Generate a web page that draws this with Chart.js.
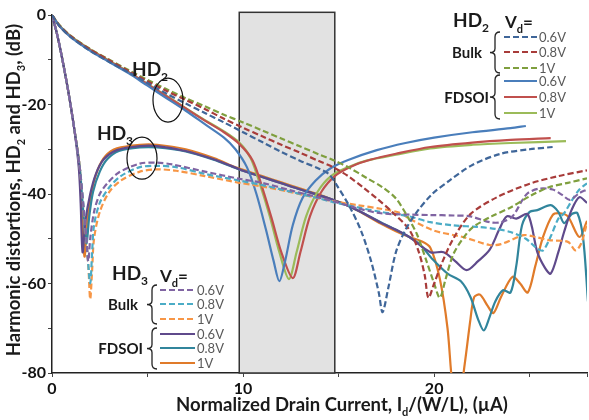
<!doctype html>
<html lang="en">
<head>
  <meta charset="utf-8">
  <title>HD2 / HD3 vs drain current</title>
  <script src="https://cdn.jsdelivr.net/npm/chart.js@4.4.1/dist/chart.umd.min.js"></script>
  <style>
    html, body { margin: 0; padding: 0; background: #fff; }
    #wrap { width: 589px; height: 420px; }
  </style>
</head>
<body>
  <div id="wrap"><canvas id="myChart" width="589" height="420"></canvas></div>
  <script>

// ---- data: [Id/(W/L) in uA, dB] ----
var hd2BulkA = [[0,0],[0.4,-2.5],[1,-5],[2,-8],[3,-10.5],[4,-12.8],[5,-15.2],[6,-17.6],[7,-19.8],[8,-21.9],[9,-24],[10,-26.2],[11,-28.4],[12,-30.6],[13,-32.6],[14,-34.4],[14.5,-35.6],[14.9,-38],[15.6,-43],[16.2,-48.5],[16.7,-55],[17.1,-62],[17.3,-66.4],[17.6,-61],[18,-53],[18.5,-48],[19.1,-44],[19.9,-40],[20.8,-37],[22,-33.5],[23.5,-31],[25,-30],[26.2,-29.5]];
var hd2BulkB = [[0,0],[0.4,-2.4],[1,-4.8],[2,-7.7],[3,-10.1],[4,-12.5],[5,-14.8],[6,-17],[7,-19],[8,-21],[9,-23.2],[10,-25.2],[11,-27.1],[12,-29],[13,-30.8],[14,-32.7],[14.7,-34],[15.5,-36],[16.3,-38.6],[17,-41],[17.8,-44],[18.7,-48],[19.2,-53],[19.5,-58],[19.7,-63.2],[20,-60],[20.4,-55.5],[21,-50],[21.9,-44.5],[23.3,-40.7],[25,-37.7],[26.5,-36],[28,-34.7]];
var hd2BulkC = [[0,0],[0.4,-2.3],[1,-4.7],[2,-7.6],[3,-10],[4,-12.3],[5,-14.5],[6,-16.6],[7,-18.6],[8,-20.4],[9,-22.3],[10,-24],[11,-25.8],[12,-27.6],[13,-29.4],[14,-31.2],[14.7,-32.4],[15.5,-34],[16.5,-36.5],[17.3,-38.5],[18,-41],[18.6,-45],[19.1,-49],[19.6,-55],[20,-60],[20.3,-63.2],[20.6,-59],[21,-53.5],[21.5,-50],[22,-47.5],[23,-45],[24,-43],[25,-40.5],[26,-38.5],[27,-37.5],[28,-36.5]];
var hd2SoiA = [[0,0],[0.4,-2.5],[1,-5],[2,-8],[3,-10.5],[4,-13],[5,-15.8],[6,-18.6],[7,-21.4],[8,-24.4],[9,-27.4],[9.6,-30],[10.2,-34],[10.7,-40],[11.2,-48],[11.6,-55],[11.9,-59.5],[12.2,-55],[12.6,-47],[13.1,-41],[13.8,-37],[14.6,-34.2],[15.5,-32.4],[17,-30.2],[18.5,-28.6],[20,-27.4],[22,-26.2],[24,-25.3],[24.8,-24.8]];
var hd2SoiB = [[0,0],[0.4,-2.5],[1,-4.9],[2,-7.8],[3,-10.3],[4,-12.8],[5,-15.5],[6,-18.2],[7,-20.9],[8,-23.6],[9,-26.2],[9.8,-28.8],[10.5,-32.5],[11,-38.5],[11.5,-45.5],[12,-53],[12.6,-58.8],[13,-53],[13.5,-45],[14.1,-39.5],[14.8,-36],[15.7,-33.8],[16.7,-32.3],[18,-31],[19.8,-29.5],[22,-28.5],[24,-27.9],[26.1,-27.5]];
var hd2SoiC = [[0,0],[0.4,-2.4],[1,-4.8],[2,-7.7],[3,-10.2],[4,-12.7],[5,-15.4],[6,-18.1],[7,-20.8],[8,-23.5],[9,-26],[9.8,-28.5],[10.4,-32],[10.9,-38],[11.4,-45],[11.9,-53],[12.4,-59],[12.8,-53],[13.3,-45],[13.9,-39.5],[14.6,-36],[15.5,-34],[16.5,-32.5],[18,-31.2],[19.8,-29.8],[22,-29],[24,-28.6],[26.9,-28.2]];

var hd3BulkA = [[0,0],[0.25,-4],[0.5,-9],[0.85,-17],[1.15,-25],[1.45,-34],[1.65,-43],[1.8,-50],[1.9,-55],[2,-50],[2.2,-44],[2.5,-40],[2.9,-37.6],[3.5,-35.2],[4.6,-33.2],[5.5,-33],[6.3,-33.4],[8,-35],[9.8,-36.6],[11,-37.5],[12.5,-39.2],[14,-40.8],[14.7,-41.6],[16,-43.2],[17.2,-44.3],[18.7,-44.6],[19.8,-44.7],[21,-44.8],[21.9,-45],[22.9,-46.3],[23.5,-46.3],[24.1,-45],[24.6,-41.5],[24.9,-39.8],[25.5,-38.8],[26.2,-39],[26.7,-40.2],[27.1,-41.3],[27.6,-39.8],[28,-39]];
var hd3BulkB = [[0,0],[0.25,-4],[0.5,-9],[0.85,-17],[1.15,-25],[1.45,-34],[1.7,-45],[1.85,-53],[2,-60],[2.1,-53],[2.2,-47],[2.5,-42],[3,-38.5],[3.6,-36],[4.6,-34],[5.5,-33.7],[6.5,-34],[8,-35.5],[9.8,-37],[11,-38],[12.5,-39.5],[14,-41],[14.7,-41.8],[16,-43],[17.2,-44],[18.7,-45],[19.8,-46.3],[21,-47],[22.4,-47.4],[23.2,-47.8],[24,-48.5],[24.8,-50],[25.4,-52.2],[25.7,-52.6],[26.1,-49.5],[26.5,-45.5],[26.8,-44.3],[27.2,-41.5],[27.6,-39],[28,-37.6]];
var hd3BulkC = [[0,0],[0.25,-4],[0.5,-9],[0.85,-17],[1.15,-25],[1.45,-34],[1.7,-46],[1.9,-56],[2,-63.5],[2.1,-57],[2.2,-50],[2.5,-44],[3,-39.5],[3.6,-37],[4.6,-35],[5.5,-34.5],[6.5,-34.8],[8,-36],[9.8,-37.5],[11,-38.3],[12.5,-39.6],[14,-41],[14.7,-41.6],[16,-42.5],[17.2,-43.3],[18.2,-44.2],[18.7,-45.5],[20,-48.2],[21.5,-49.6],[22.9,-51.4],[23.5,-51.2],[24.7,-49.2],[25.3,-49.6],[26,-50.3],[27,-50.7],[27.4,-52.6],[27.7,-51],[28,-46.5]];
var hd3SoiA = [[0,0],[0.25,-4],[0.5,-9],[0.85,-17],[1.15,-25],[1.4,-34],[1.5,-42],[1.6,-53],[1.75,-46],[2,-40],[2.3,-35.5],[2.7,-32.3],[3.4,-30.2],[4.6,-29.3],[5.5,-29.3],[7,-30.4],[8.5,-32.3],[9.3,-33.6],[10,-34.8],[11,-36.2],[12,-37.6],[13,-39],[14,-40.3],[14.7,-41.3],[15.5,-42.6],[16.3,-44.3],[17.2,-46.4],[18,-48],[18.7,-49.6],[19.8,-53],[20.5,-53],[21.1,-55],[21.7,-57],[22.3,-55],[22.9,-52.5],[23.4,-48],[23.8,-45],[24.3,-45.5],[24.9,-44.5],[25.4,-53],[25.8,-56.5],[26.1,-57.8],[26.5,-53],[26.8,-48.5],[27.2,-43.5],[27.6,-40.7],[28,-42]];
var hd3SoiB = [[0,0],[0.25,-4],[0.5,-9],[0.85,-17],[1.15,-25],[1.45,-34],[1.6,-42],[1.8,-51],[1.95,-45],[2.15,-39.5],[2.5,-35],[2.9,-32.2],[3.5,-30.4],[4.6,-29.6],[5.5,-29.6],[7,-30.5],[8.5,-32.4],[9.3,-33.7],[10,-34.8],[11,-36.2],[12,-37.6],[13,-39],[14,-40.3],[14.7,-41.3],[15.5,-42.6],[16.3,-44.3],[17.2,-46.3],[18,-48],[18.7,-49.6],[19.3,-51.5],[19.9,-54.5],[20.7,-57.8],[21.4,-59.5],[21.9,-63],[22.3,-68],[22.6,-70.5],[22.9,-67.5],[23.2,-64],[23.6,-61.5],[24,-62],[24.3,-56],[24.6,-47],[25,-44],[25.4,-43.6],[26.1,-42.5],[26.5,-44],[26.8,-46.5],[27.2,-44.5],[27.5,-44.3],[27.8,-50],[28.05,-64]];
var hd3SoiC = [[0,0],[0.25,-4],[0.5,-9],[0.85,-17],[1.15,-25],[1.45,-34],[1.55,-43],[1.7,-54],[1.85,-46],[2.1,-39],[2.4,-34.5],[2.8,-31.5],[3.4,-29.8],[4.6,-29],[5.5,-29],[7,-30],[8.5,-32],[9.3,-33.5],[10,-34.6],[11,-36],[12,-37.4],[13,-38.8],[14,-40.2],[14.7,-41.3],[15.5,-42.6],[16.3,-44.4],[17.2,-46.6],[18,-48.3],[18.7,-49.6],[19.3,-50.5],[19.8,-52],[20.3,-59],[20.7,-70],[21,-84],[21.3,-86],[21.6,-78],[21.9,-68],[22.1,-63],[22.4,-62.5],[22.8,-65],[23.1,-66.6],[23.5,-63],[24.1,-58.5],[24.5,-60],[24.9,-62],[25.3,-56],[25.7,-49.6],[26.2,-44.7],[26.6,-44.3],[27,-45],[27.6,-49.6],[28,-46]];

var vdLabels = ["0.6V", "0.8V", "1V"];
var hd2Colors = { bulk: ["#3f6699", "#a83c3a", "#7f9f3e"], soi: ["#4a7ebb", "#c0504d", "#9bbb59"] };
var hd3Colors = { bulk: ["#8064a2", "#4bacc6", "#f79646"], soi: ["#5f4a8b", "#31859c", "#e07b2a"] };

var shadeFrom = 9.8, shadeTo = 14.8;
var fontFam = "Lato, 'Open Sans', sans-serif";

function pts(arr) {
  return arr.map(function (p) { return { x: p[0], y: p[1] }; });
}
function line(label, arr, color, dashed) {
  return {
    label: label,
    data: pts(arr),
    borderColor: color,
    borderWidth: 2.2,
    borderDash: dashed ? [6, 3] : [],
    pointRadius: 0,
    tension: 0.3,
    fill: false
  };
}

var datasets = [
  line("HD2 Bulk 0.6V", hd2BulkA, hd2Colors.bulk[0], true),
  line("HD2 Bulk 0.8V", hd2BulkB, hd2Colors.bulk[1], true),
  line("HD2 Bulk 1V", hd2BulkC, hd2Colors.bulk[2], true),
  line("HD3 Bulk 0.6V", hd3BulkA, hd3Colors.bulk[0], true),
  line("HD3 Bulk 0.8V", hd3BulkB, hd3Colors.bulk[1], true),
  line("HD3 Bulk 1V", hd3BulkC, hd3Colors.bulk[2], true),
  line("HD2 FDSOI 0.6V", hd2SoiA, hd2Colors.soi[0], false),
  line("HD2 FDSOI 0.8V", hd2SoiB, hd2Colors.soi[1], false),
  line("HD2 FDSOI 1V", hd2SoiC, hd2Colors.soi[2], false),
  line("HD3 FDSOI 0.6V", hd3SoiA, hd3Colors.soi[0], false),
  line("HD3 FDSOI 0.8V", hd3SoiB, hd3Colors.soi[1], false),
  line("HD3 FDSOI 1V", hd3SoiC, hd3Colors.soi[2], false)
];

// text with subscripts: parts = [[text, isSub], ...]
function richWidth(ctx, parts, size) {
  var w = 0;
  parts.forEach(function (p) {
    ctx.font = "bold " + (p[1] ? Math.round(size * 0.62) : size) + "px " + fontFam;
    w += ctx.measureText(p[0]).width;
  });
  return w;
}
function richText(ctx, parts, x, y, size, align, color) {
  var w = richWidth(ctx, parts, size);
  var cx = align === "center" ? x - w / 2 : (align === "right" ? x - w : x);
  ctx.fillStyle = color || "#1a1a1a";
  ctx.textAlign = "left";
  ctx.textBaseline = "alphabetic";
  parts.forEach(function (p) {
    ctx.font = "bold " + (p[1] ? Math.round(size * 0.62) : size) + "px " + fontFam;
    ctx.fillText(p[0], cx, p[1] ? y + size * 0.28 : y);
    cx += ctx.measureText(p[0]).width;
  });
}
function brace(ctx, x, y1, y2) {
  var m = (y1 + y2) / 2, w = 5;
  ctx.beginPath();
  ctx.moveTo(x + w, y1);
  ctx.quadraticCurveTo(x, y1, x, y1 + 5);
  ctx.lineTo(x, m - 4);
  ctx.quadraticCurveTo(x, m, x - w, m);
  ctx.quadraticCurveTo(x, m, x, m + 4);
  ctx.lineTo(x, y2 - 5);
  ctx.quadraticCurveTo(x, y2, x + w, y2);
  ctx.stroke();
}
function legendBlock(ctx, o) {
  richText(ctx, [[o.title, false], [o.sub, true]], o.titleX, o.titleY, 19, "left");
  richText(ctx, [["V", false], ["d", true], ["=", false]], o.vdX, o.vdY, 17, "left");
  richText(ctx, [["Bulk", false]], o.bulkX, o.bulkY, 15, "right");
  richText(ctx, [["FDSOI", false]], o.soiX, o.soiY, 15, "right");
  ctx.save();
  ctx.strokeStyle = "#222";
  ctx.lineWidth = 1.3;
  brace(ctx, o.braceX, o.rows[0] - 5, o.rows[2] + 5);
  brace(ctx, o.braceX, o.rows[3] - 6, o.rows[5] + 6);
  ctx.restore();
  for (var i = 0; i < 6; i++) {
    var dashed = i < 3;
    ctx.save();
    ctx.strokeStyle = dashed ? o.colors.bulk[i] : o.colors.soi[i - 3];
    ctx.lineWidth = 2.2;
    ctx.setLineDash(dashed ? [6, 3] : []);
    ctx.beginPath();
    ctx.moveTo(o.lineX1, o.rows[i]);
    ctx.lineTo(o.lineX2, o.rows[i]);
    ctx.stroke();
    ctx.restore();
    ctx.fillStyle = "#595959";
    ctx.font = "13px " + fontFam;
    ctx.textAlign = "left";
    ctx.textBaseline = "middle";
    ctx.fillText(vdLabels[i % 3], o.lineX2 + 2, o.rows[i] + 1);
  }
}

var decorPlugin = {
  id: "decor",
  beforeDatasetsDraw: function (chart) {
    var ctx = chart.ctx, xs = chart.scales.x, ys = chart.scales.y;
    var l = xs.getPixelForValue(shadeFrom), r = xs.getPixelForValue(shadeTo);
    var t = ys.getPixelForValue(0.6), b = ys.getPixelForValue(-80);
    ctx.save();
    ctx.fillStyle = "#e2e2e2";
    ctx.fillRect(l, t, r - l, b - t);
    ctx.strokeStyle = "#333";
    ctx.lineWidth = 1.5;
    ctx.strokeRect(l, t, r - l, b - t);
    ctx.restore();
  },
  afterDraw: function (chart) {
    var ctx = chart.ctx, xs = chart.scales.x, ys = chart.scales.y;
    ctx.save();
    // ellipses and curve labels
    ctx.strokeStyle = "#111";
    ctx.lineWidth = 1.2;
    ctx.beginPath();
    ctx.ellipse(xs.getPixelForValue(6.07), ys.getPixelForValue(-19), 15, 22, 0, 0, Math.PI * 2);
    ctx.stroke();
    ctx.beginPath();
    ctx.ellipse(xs.getPixelForValue(4.71), ys.getPixelForValue(-32), 15, 21, 0, 0, Math.PI * 2);
    ctx.stroke();
    richText(ctx, [["HD", false], ["2", true]], xs.getPixelForValue(5.13), ys.getPixelForValue(-12.1) + 7, 19, "center");
    richText(ctx, [["HD", false], ["3", true]], xs.getPixelForValue(3.3), ys.getPixelForValue(-26.4) + 7, 19, "center");

    legendBlock(ctx, {
      title: "HD", sub: "2", titleX: 453, titleY: 27, vdX: 505, vdY: 28,
      bulkX: 482, bulkY: 58, soiX: 489, soiY: 103, braceX: 495,
      rows: [37, 52, 68, 81, 97, 113], lineX1: 504, lineX2: 537, colors: hd2Colors
    });
    legendBlock(ctx, {
      title: "HD", sub: "3", titleX: 112, titleY: 280, vdX: 160, vdY: 282,
      bulkX: 138, bulkY: 310, soiX: 143, soiY: 354, braceX: 152,
      rows: [290, 304, 319, 334, 348, 363], lineX1: 160, lineX2: 195, colors: hd3Colors
    });

    // axis titles
    richText(ctx, [["Normalized Drain Current, I", false], ["d", true], ["/(W/L), (\u00b5A)", false]],
      342, 411, 18.5, "center");
    ctx.translate(20, 190);
    ctx.rotate(-Math.PI / 2);
    richText(ctx, [["Harmonic distortions, HD", false], ["2", true], [" and HD", false], ["3", true], [", (dB)", false]],
      0, 0, 18.5, "center");
    ctx.restore();
  }
};

var ctx = document.getElementById("myChart").getContext("2d");
var chart = new Chart(ctx, {
  type: "line",
  data: { datasets: datasets },
  options: {
    responsive: false,
    animation: false,
    devicePixelRatio: 1,
    layout: { padding: { top: 15, right: 0, left: 0, bottom: 0 } },
    plugins: { legend: { display: false }, tooltip: { enabled: false } },
    scales: {
      x: {
        type: "linear", min: 0, max: 28,
        ticks: {
          stepSize: 5, maxRotation: 0, autoSkip: false, padding: 2, color: "#111",
          font: { family: fontFam, size: 16, weight: "bold" },
          callback: function (v) { return v % 10 === 0 ? v : ""; }
        },
        grid: { drawOnChartArea: false, drawTicks: true, tickLength: 4, color: "#444" },
        border: { color: "#222", width: 1.5 },
        afterFit: function (s) { s.height = 47; }
      },
      y: {
        min: -80, max: 0,
        ticks: {
          stepSize: 10, padding: 2, color: "#111",
          font: { family: fontFam, size: 16, weight: "bold" },
          callback: function (v) { return v % 20 === 0 ? v : ""; }
        },
        grid: { drawOnChartArea: false, drawTicks: true, tickLength: 4, color: "#444" },
        border: { color: "#222", width: 1.5 },
        afterFit: function (s) { s.width = 52; }
      }
    }
  },
  plugins: [decorPlugin]
});
  </script>
</body>
</html>
